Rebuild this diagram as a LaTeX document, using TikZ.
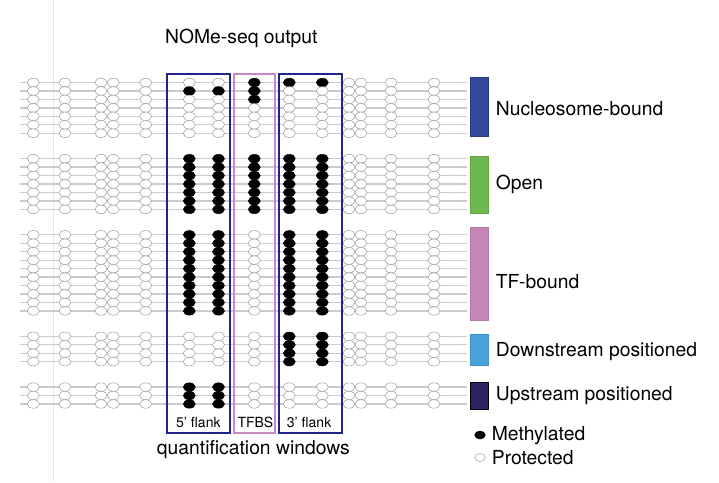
\documentclass[tikz,border=0pt]{standalone}
\usepackage{fontspec}
\setmainfont{TeX Gyre Heros}
\definecolor{rowline}{RGB}{204,204,204}
\definecolor{protedge}{RGB}{155,155,155}
\definecolor{winblue}{RGB}{30,36,140}
\definecolor{winpink}{RGB}{200,138,192}
\definecolor{cyanline}{RGB}{185,250,252}
\definecolor{nucfill}{RGB}{52,72,156}
\definecolor{openfill}{RGB}{110,185,79}
\definecolor{tffill}{RGB}{196,134,185}
\definecolor{downfill}{RGB}{74,163,223}
\definecolor{upfill}{RGB}{43,34,96}
\tikzset{
  rowstyle/.style={draw=rowline, line width=1.3pt},
  prot/.style={draw=protedge, fill=white, line width=0.5pt},
  meth/.style={draw=black, fill=black, line width=0.5pt},
  winbox/.style={draw=winblue, line width=1.8pt},
  tfbox/.style={draw=winpink, line width=1.8pt},
  bigtext/.style={anchor=base west, inner sep=0pt, font=\fontsize{19.3}{22}\selectfont},
  smalltext/.style={anchor=base west, inner sep=0pt, font=\fontsize{14}{16}\selectfont},
  legbar/.style={line width=0.8pt},
}
\newcommand{\cpg}[3]{\path[#1] (#2,#3) ellipse [x radius=6pt, y radius=4.25pt];}
\begin{document}
\begin{tikzpicture}[x=1pt,y=-1pt]
\useasboundingbox (0,0) rectangle (719,482);
\fill[white] (0,0) rectangle (719,482);
\draw[cyanline, line width=1.1pt] (53.3,0) -- (53.3,482);
% rows
% group 1: nucleosome-bound (rows 0-6)
\foreach \i in {0,...,6} {
  \pgfmathsetmacro{\yy}{82.5+\i*8.46}
  \draw[rowstyle] (20,\yy) -- (467,\yy);
  \foreach \x in {33.3,65,101,113.3,145.7,349,361,391,434} {\cpg{prot}{\x}{\yy}}
  \ifnum\i=1 \cpg{meth}{189.3}{\yy}\cpg{meth}{218.5}{\yy}\else\cpg{prot}{189.3}{\yy}\cpg{prot}{218.5}{\yy}\fi
  \ifnum\i<3 \cpg{meth}{254.3}{\yy}\else\cpg{prot}{254.3}{\yy}\fi
  \ifnum\i=0 \cpg{meth}{289.3}{\yy}\cpg{meth}{322.3}{\yy}\else\cpg{prot}{289.3}{\yy}\cpg{prot}{322.3}{\yy}\fi
}
% group 2: open (rows 9-15)
\foreach \i in {9,...,15} {
  \pgfmathsetmacro{\yy}{82.5+\i*8.46}
  \draw[rowstyle] (20,\yy) -- (467,\yy);
  \foreach \x in {33.3,65,101,113.3,145.7,349,361,391,434} {\cpg{prot}{\x}{\yy}}
  \foreach \x in {189.3,218.5,254.3,289.3,322.3} {\cpg{meth}{\x}{\yy}}
}
% group 3: TF-bound (rows 18-27)
\foreach \i in {18,...,27} {
  \pgfmathsetmacro{\yy}{82.5+\i*8.46}
  \draw[rowstyle] (20,\yy) -- (467,\yy);
  \foreach \x in {33.3,65,101,113.3,145.7,254.3,349,361,391,434} {\cpg{prot}{\x}{\yy}}
  \foreach \x in {189.3,218.5,289.3,322.3} {\cpg{meth}{\x}{\yy}}
}
% group 4: downstream positioned (rows 30-33)
\foreach \i in {30,...,33} {
  \pgfmathsetmacro{\yy}{82.5+\i*8.46}
  \draw[rowstyle] (20,\yy) -- (467,\yy);
  \foreach \x in {33.3,65,101,113.3,145.7,189.3,218.5,254.3,349,361,391,434} {\cpg{prot}{\x}{\yy}}
  \foreach \x in {289.3,322.3} {\cpg{meth}{\x}{\yy}}
}
% group 5: upstream positioned (rows 36-38)
\foreach \i in {36,...,38} {
  \pgfmathsetmacro{\yy}{82.5+\i*8.46}
  \draw[rowstyle] (20,\yy) -- (467,\yy);
  \foreach \x in {33.3,65,101,113.3,145.7,254.3,289.3,322.3,349,361,391,434} {\cpg{prot}{\x}{\yy}}
  \foreach \x in {189.3,218.5} {\cpg{meth}{\x}{\yy}}
}
% quantification windows
\draw[winbox] (167.3,74) rectangle (229.6,432.7);
\draw[tfbox] (233.9,74) rectangle (274.6,432.7);
\draw[winbox] (279.2,74) rectangle (341.8,432.7);
\node[smalltext] (w5) at (176,427.7) {5’ flank};
\node[smalltext] (wt) at (237.3,427.7) {TFBS};
\node[smalltext] (w3) at (286.7,427.7) {3’ flank};
\node[bigtext] (qw) at (156.7,454) {quantification windows};
\node[bigtext] (title) at (165,43.3) {NOMe-seq output};
% legend bars
\draw[legbar, fill=nucfill, draw=nucfill!80!black] (470,77.3) rectangle (488,136.7);
\draw[legbar, fill=openfill, draw=openfill!90!black] (470,156.7) rectangle (488,213.3);
\draw[legbar, fill=tffill, draw=tffill!90!black] (470,227.7) rectangle (488,320.7);
\draw[legbar, fill=downfill, draw=downfill!90!black] (470,334) rectangle (488,365);
\draw[legbar, fill=upfill, draw=black] (470,382.3) rectangle (488,409.3);
\node[bigtext] (lnuc) at (495.7,115.3) {Nucleosome-bound};
\node[bigtext] (lopen) at (495.7,189.3) {Open};
\node[bigtext] (ltf) at (495.7,288.3) {TF-bound};
\node[bigtext] (ldown) at (495.7,356.7) {Downstream positioned};
\node[bigtext] (lup) at (495.7,400) {Upstream positioned};
% methylation legend
\path[meth] (480,435) ellipse [x radius=5.3pt, y radius=4pt];
\path[prot] (480,457.5) ellipse [x radius=5.3pt, y radius=4pt];
\node[bigtext] (lmeth) at (491.7,440.7) {Methylated};
\node[bigtext] (lprot) at (491.7,464) {Protected};
\end{tikzpicture}
\end{document}
